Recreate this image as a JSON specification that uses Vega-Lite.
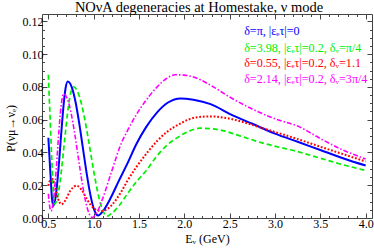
{
  "$schema": "https://vega.github.io/schema/vega-lite/v6.json",
  "width": 330,
  "height": 204,
  "autosize": {"type": "none"},
  "padding": {"left": 42, "top": 14, "right": 2, "bottom": 31},
  "background": "white",
  "config": {
    "view": {"stroke": "#444", "strokeWidth": 1},
    "font": "Liberation Serif",
    "axis": {
      "labelFont": "Liberation Serif", "labelFontSize": 12, "labelColor": "black",
      "titleFont": "Liberation Serif", "titleFontSize": 12, "titleFontWeight": "normal", "titleColor": "black",
      "tickColor": "#444", "domain": false, "grid": false, "labelOverlap": false, "labelFlush": false, "labelBound": false
    }
  },
  "title": {"text": "NOνA degeneracies at Homestake, ν mode", "font": "Liberation Serif", "fontSize": 14.5, "fontWeight": "normal", "color": "black", "offset": 0, "dy": 2, "dx": -8, "anchor": "middle"},
  "data": {"values": [
    {"s":"b","E":0.50,"P":0.049},{"s":"b","E":0.52,"P":0.030},{"s":"b","E":0.54,"P":0.012},{"s":"b","E":0.553,"P":0.0074},{"s":"b","E":0.58,"P":0.0126},{"s":"b","E":0.61,"P":0.0286},{"s":"b","E":0.64,"P":0.050},{"s":"b","E":0.67,"P":0.070},{"s":"b","E":0.69,"P":0.0792},{"s":"b","E":0.714,"P":0.0833},{"s":"b","E":0.76,"P":0.0796},{"s":"b","E":0.80,"P":0.0708},{"s":"b","E":0.84,"P":0.058},{"s":"b","E":0.88,"P":0.0431},{"s":"b","E":0.92,"P":0.0282},{"s":"b","E":0.96,"P":0.0152},{"s":"b","E":1.00,"P":0.0059},{"s":"b","E":1.05,"P":0.0015},{"s":"b","E":1.10,"P":0.004},{"s":"b","E":1.19,"P":0.0125},{"s":"b","E":1.28,"P":0.023},{"s":"b","E":1.37,"P":0.033},{"s":"b","E":1.47,"P":0.045},{"s":"b","E":1.58,"P":0.0556},{"s":"b","E":1.70,"P":0.0645},{"s":"b","E":1.82,"P":0.0705},{"s":"b","E":1.956,"P":0.073},{"s":"b","E":2.10,"P":0.0722},{"s":"b","E":2.29,"P":0.0695},{"s":"b","E":2.51,"P":0.0633},{"s":"b","E":2.75,"P":0.0575},{"s":"b","E":3.0,"P":0.0515},{"s":"b","E":3.25,"P":0.0465},{"s":"b","E":3.5,"P":0.0415},{"s":"b","E":3.75,"P":0.0365},{"s":"b","E":4.0,"P":0.032},
    {"s":"g","E":0.50,"P":0.0874},{"s":"g","E":0.52,"P":0.060},{"s":"g","E":0.54,"P":0.033},{"s":"g","E":0.555,"P":0.016},{"s":"g","E":0.57,"P":0.0086},{"s":"g","E":0.60,"P":0.0122},{"s":"g","E":0.64,"P":0.027},{"s":"g","E":0.68,"P":0.0478},{"s":"g","E":0.72,"P":0.0676},{"s":"g","E":0.75,"P":0.0771},{"s":"g","E":0.777,"P":0.080},{"s":"g","E":0.82,"P":0.0775},{"s":"g","E":0.86,"P":0.0708},{"s":"g","E":0.90,"P":0.0607},{"s":"g","E":0.94,"P":0.0484},{"s":"g","E":0.98,"P":0.0352},{"s":"g","E":1.02,"P":0.0226},{"s":"g","E":1.06,"P":0.012},{"s":"g","E":1.10,"P":0.0047},{"s":"g","E":1.15,"P":0.0012},{"s":"g","E":1.19,"P":0.0025},{"s":"g","E":1.28,"P":0.0075},{"s":"g","E":1.37,"P":0.0146},{"s":"g","E":1.47,"P":0.022},{"s":"g","E":1.58,"P":0.029},{"s":"g","E":1.70,"P":0.038},{"s":"g","E":1.82,"P":0.045},{"s":"g","E":1.95,"P":0.050},{"s":"g","E":2.05,"P":0.053},{"s":"g","E":2.17,"P":0.0548},{"s":"g","E":2.30,"P":0.0545},{"s":"g","E":2.45,"P":0.053},{"s":"g","E":2.62,"P":0.050},{"s":"g","E":2.88,"P":0.0455},{"s":"g","E":3.25,"P":0.0405},{"s":"g","E":3.5,"P":0.0365},{"s":"g","E":3.75,"P":0.0325},{"s":"g","E":4.0,"P":0.029},
    {"s":"r","E":0.50,"P":0.0197},{"s":"r","E":0.52,"P":0.023},{"s":"r","E":0.545,"P":0.0238},{"s":"r","E":0.57,"P":0.020},{"s":"r","E":0.60,"P":0.013},{"s":"r","E":0.645,"P":0.0084},{"s":"r","E":0.69,"P":0.011},{"s":"r","E":0.74,"P":0.0165},{"s":"r","E":0.813,"P":0.0197},{"s":"r","E":0.87,"P":0.017},{"s":"r","E":0.93,"P":0.011},{"s":"r","E":1.00,"P":0.006},{"s":"r","E":1.05,"P":0.0045},{"s":"r","E":1.095,"P":0.0043},{"s":"r","E":1.15,"P":0.0055},{"s":"r","E":1.19,"P":0.0074},{"s":"r","E":1.30,"P":0.0156},{"s":"r","E":1.37,"P":0.0225},{"s":"r","E":1.47,"P":0.031},{"s":"r","E":1.58,"P":0.0392},{"s":"r","E":1.70,"P":0.047},{"s":"r","E":1.82,"P":0.053},{"s":"r","E":1.95,"P":0.0575},{"s":"r","E":2.14,"P":0.0615},{"s":"r","E":2.29,"P":0.062},{"s":"r","E":2.51,"P":0.0605},{"s":"r","E":2.62,"P":0.059},{"s":"r","E":2.88,"P":0.0545},{"s":"r","E":3.0,"P":0.0525},{"s":"r","E":3.27,"P":0.0478},{"s":"r","E":3.5,"P":0.0435},{"s":"r","E":3.75,"P":0.039},{"s":"r","E":4.0,"P":0.0345},
    {"s":"m","E":0.50,"P":0.0148},{"s":"m","E":0.515,"P":0.007},{"s":"m","E":0.53,"P":0.0043},{"s":"m","E":0.55,"P":0.0078},{"s":"m","E":0.58,"P":0.0245},{"s":"m","E":0.61,"P":0.048},{"s":"m","E":0.64,"P":0.068},{"s":"m","E":0.67,"P":0.0757},{"s":"m","E":0.71,"P":0.0727},{"s":"m","E":0.75,"P":0.0643},{"s":"m","E":0.79,"P":0.0518},{"s":"m","E":0.83,"P":0.037},{"s":"m","E":0.87,"P":0.0225},{"s":"m","E":0.91,"P":0.0104},{"s":"m","E":0.95,"P":0.0026},{"s":"m","E":0.985,"P":0.0003},{"s":"m","E":1.05,"P":0.005},{"s":"m","E":1.10,"P":0.012},{"s":"m","E":1.19,"P":0.027},{"s":"m","E":1.30,"P":0.045},{"s":"m","E":1.37,"P":0.053},{"s":"m","E":1.47,"P":0.063},{"s":"m","E":1.58,"P":0.072},{"s":"m","E":1.70,"P":0.080},{"s":"m","E":1.80,"P":0.085},{"s":"m","E":1.90,"P":0.0874},{"s":"m","E":2.00,"P":0.0872},{"s":"m","E":2.15,"P":0.085},{"s":"m","E":2.29,"P":0.081},{"s":"m","E":2.51,"P":0.0735},{"s":"m","E":2.75,"P":0.0665},{"s":"m","E":3.0,"P":0.0605},{"s":"m","E":3.27,"P":0.0556},{"s":"m","E":3.5,"P":0.0485},{"s":"m","E":3.75,"P":0.0415},{"s":"m","E":4.0,"P":0.036}
  ]},
  "layer": [
    {
      "transform": [{"filter": "datum.s === 'b'"}],
      "mark": {"type": "line", "color": "#0000ff", "strokeWidth": 2, "interpolate": "monotone"},
      "encoding": {
        "x": {"field": "E", "type": "quantitative", "scale": {"domain": [0.43, 4.07], "nice": false, "zero": false},
          "axis": {"orient": "bottom", "values": [0.5,0.6,0.7,0.8,0.9,1.0,1.1,1.2,1.3,1.4,1.5,1.6,1.7,1.8,1.9,2.0,2.1,2.2,2.3,2.4,2.5,2.6,2.7,2.8,2.9,3.0,3.1,3.2,3.3,3.4,3.5,3.6,3.7,3.8,3.9,4.0],
            "labelExpr": "abs(datum.value*2 - round(datum.value*2)) < 0.001 ? format(datum.value, '.1f') : ''",
            "tickSize": {"condition": {"test": "abs(datum.value*2 - round(datum.value*2)) < 0.001", "value": -5}, "value": -2.5},
            "labelPadding": 5, "title": "Eᵥ (GeV)", "titleY": 20, "titleBaseline": "middle"}},
        "y": {"field": "P", "type": "quantitative", "scale": {"domain": [0, 0.1245], "nice": false, "zero": false},
          "axis": {"orient": "left", "values": [0,0.005,0.01,0.015,0.02,0.025,0.03,0.035,0.04,0.045,0.05,0.055,0.06,0.065,0.07,0.075,0.08,0.085,0.09,0.095,0.1,0.105,0.11,0.115,0.12],
            "labelExpr": "abs(datum.value*50 - round(datum.value*50)) < 0.001 ? format(datum.value, '.2f') : ''",
            "tickSize": {"condition": {"test": "abs(datum.value*50 - round(datum.value*50)) < 0.001", "value": -5}, "value": -2.5},
            "labelPadding": 4, "title": "P(νμ→νₑ)", "titleX": -32, "titleY": 114, "titleAngle": -90, "titleAlign": "center", "titleBaseline": "middle"}}
      }
    },
    {
      "transform": [{"filter": "datum.s === 'g'"}],
      "mark": {"type": "line", "color": "#00ee00", "strokeWidth": 1.7, "strokeDash": [5, 3], "interpolate": "monotone"},
      "encoding": {
        "x": {"field": "E", "type": "quantitative", "axis": null},
        "y": {"field": "P", "type": "quantitative", "axis": null}
      }
    },
    {
      "transform": [{"filter": "datum.s === 'r'"}],
      "mark": {"type": "line", "color": "#ff0000", "strokeWidth": 2, "strokeDash": [1.8, 1.8], "interpolate": "monotone"},
      "encoding": {
        "x": {"field": "E", "type": "quantitative", "axis": null},
        "y": {"field": "P", "type": "quantitative", "axis": null}
      }
    },
    {
      "transform": [{"filter": "datum.s === 'm'"}],
      "mark": {"type": "line", "color": "#ff00ff", "strokeWidth": 1.6, "strokeDash": [5, 2, 1.5, 2], "interpolate": "monotone"},
      "encoding": {
        "x": {"field": "E", "type": "quantitative", "axis": null},
        "y": {"field": "P", "type": "quantitative", "axis": null}
      }
    },
    {
      "data": {"values": [
        {"t": "δ=π, |εₑτ|=0", "c": "b", "E": 2.66, "P": 0.1141},
        {"t": "δ=3.98, |εₑτ|=0.2, δᵥ=π/4", "c": "g", "E": 2.66, "P": 0.1037},
        {"t": "δ=0.55, |εₑτ|=0.2, δᵥ=1.1", "c": "r", "E": 2.66, "P": 0.0946},
        {"t": "δ=2.14, |εₑτ|=0.2, δᵥ=3π/4", "c": "m", "E": 2.66, "P": 0.0848}
      ]},
      "mark": {"type": "text", "align": "left", "baseline": "middle", "font": "Liberation Serif", "fontSize": 12.1},
      "encoding": {
        "x": {"field": "E", "type": "quantitative",
          "axis": {"orient": "top", "values": [0.5,0.6,0.7,0.8,0.9,1.0,1.1,1.2,1.3,1.4,1.5,1.6,1.7,1.8,1.9,2.0,2.1,2.2,2.3,2.4,2.5,2.6,2.7,2.8,2.9,3.0,3.1,3.2,3.3,3.4,3.5,3.6,3.7,3.8,3.9,4.0],
            "labels": false, "title": null,
            "tickSize": {"condition": {"test": "abs(datum.value*2 - round(datum.value*2)) < 0.001", "value": -5}, "value": -2.5}}},
        "y": {"field": "P", "type": "quantitative",
          "axis": {"orient": "right", "values": [0,0.005,0.01,0.015,0.02,0.025,0.03,0.035,0.04,0.045,0.05,0.055,0.06,0.065,0.07,0.075,0.08,0.085,0.09,0.095,0.1,0.105,0.11,0.115,0.12],
            "labels": false, "title": null,
            "tickSize": {"condition": {"test": "abs(datum.value*50 - round(datum.value*50)) < 0.001", "value": -5}, "value": -2.5}}},
        "text": {"field": "t"},
        "color": {"field": "c", "type": "nominal", "scale": {"domain": ["b", "g", "r", "m"], "range": ["#0000ff", "#00ee00", "#ff0000", "#ff00ff"]}, "legend": null}
      }
    }
  ],
  "resolve": {"axis": {"x": "independent", "y": "independent"}}
}
